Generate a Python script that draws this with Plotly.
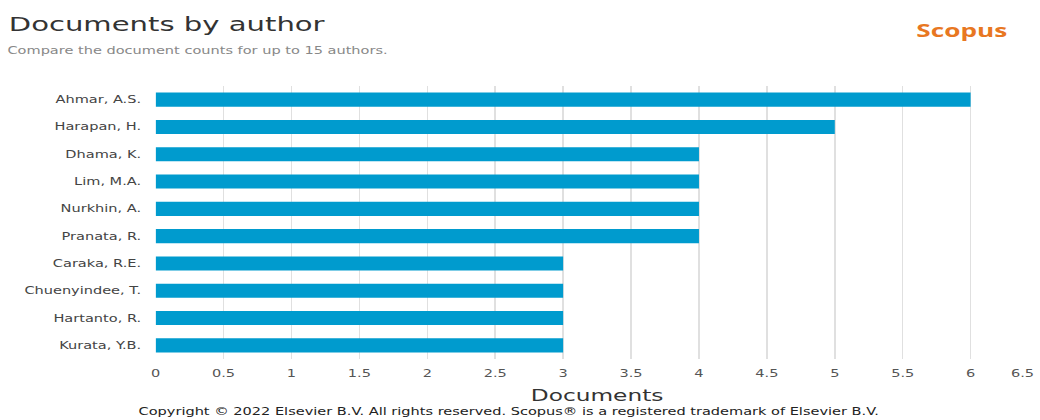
import plotly.graph_objects as go

authors = ["Ahmar, A.S.", "Harapan, H.", "Dhama, K.", "Lim, M.A.", "Nurkhin, A.",
           "Pranata, R.", "Caraka, R.E.", "Chuenyindee, T.", "Hartanto, R.", "Kurata, Y.B."]
documents = [6, 5, 4, 4, 4, 4, 3, 3, 3, 3]
tick_values = [0, 0.5, 1, 1.5, 2, 2.5, 3, 3.5, 4, 4.5, 5, 5.5, 6, 6.5]
tick_labels = ["0", "0.5", "1", "1.5", "2", "2.5", "3", "3.5", "4", "4.5", "5", "5.5", "6", "6.5"]

FONT = "DejaVu Sans"
BAR_COLOR = "#009BCE"

# The chart is laid out at its native width and widened to the page width.
BASE_WIDTH = 715
PAGE_WIDTH = 1040
STRETCH = PAGE_WIDTH / BASE_WIDTH

fig = go.Figure(go.Bar(
    x=documents,
    y=authors,
    orientation="h",
    marker=dict(color=BAR_COLOR, line=dict(width=0)),
    hovertemplate="%{y}: %{x}<extra></extra>",
))

# last tick label is drawn separately so it stays inside the page edge
shown_labels = tick_labels[:-1] + [""]

fig.update_layout(
    width=BASE_WIDTH,
    height=420,
    margin=dict(l=107, r=1, t=86, b=61, autoexpand=False),
    paper_bgcolor="white",
    plot_bgcolor="white",
    bargap=0.485,
    showlegend=False,
    font=dict(family=FONT, color="#444"),
    xaxis=dict(
        range=[0, 6.5],
        tickvals=tick_values,
        ticktext=shown_labels,
        showgrid=True,
        gridcolor="#e0e0e0",
        gridwidth=1,
        zeroline=False,
        showline=False,
        ticks="",
        ticklabelstandoff=7,
        tickfont=dict(family=FONT, size=10, color="#555"),
        automargin=False,
        title=dict(text="Documents", font=dict(family=FONT, size=16, color="#333"), standoff=11),
    ),
    yaxis=dict(
        categoryorder="array",
        categoryarray=authors[::-1],
        showgrid=False,
        zeroline=False,
        showline=False,
        ticks="",
        ticklabelstandoff=9,
        tickfont=dict(family=FONT, size=10, color="#444"),
        automargin=False,
    ),
    annotations=[
        dict(text="Documents by author", xref="paper", yref="paper",
             x=0, xshift=-103, y=1, yshift=62, xanchor="left", yanchor="middle",
             showarrow=False, font=dict(family=FONT, size=20, color="#333")),
        dict(text="Compare the document counts for up to 15 authors.", xref="paper", yref="paper",
             x=0, xshift=-104, y=1, yshift=36, xanchor="left", yanchor="middle",
             showarrow=False, font=dict(family=FONT, size=10, color="#888")),
        dict(text="<b>Scopus</b>", xref="paper", yref="paper",
             x=1, xshift=-19, y=1, yshift=56, xanchor="right", yanchor="middle",
             showarrow=False, font=dict(family="Open Sans", size=18, color="#E87722")),
        dict(text="6.5", xref="paper", yref="paper",
             x=1, xshift=-1, y=0, yshift=-14, xanchor="right", yanchor="middle",
             showarrow=False, font=dict(family=FONT, size=10, color="#555")),
        dict(text="Copyright © 2022 Elsevier B.V. All rights reserved. Scopus® is a registered trademark of Elsevier B.V.",
             xref="paper", yref="paper", x=0.5, xshift=-61, y=0, yshift=-52,
             xanchor="center", yanchor="middle",
             showarrow=False, font=dict(family=FONT, size=10, color="#222")),
    ],
)

widen = (
    "var gd = document.getElementById('{plot_id}');"
    "gd.style.transformOrigin = '0 0';"
    "gd.style.transform = 'scaleX(%.5f)';" % STRETCH
)

fig.write_html("out.html", post_script=widen, config={"displayModeBar": False})
